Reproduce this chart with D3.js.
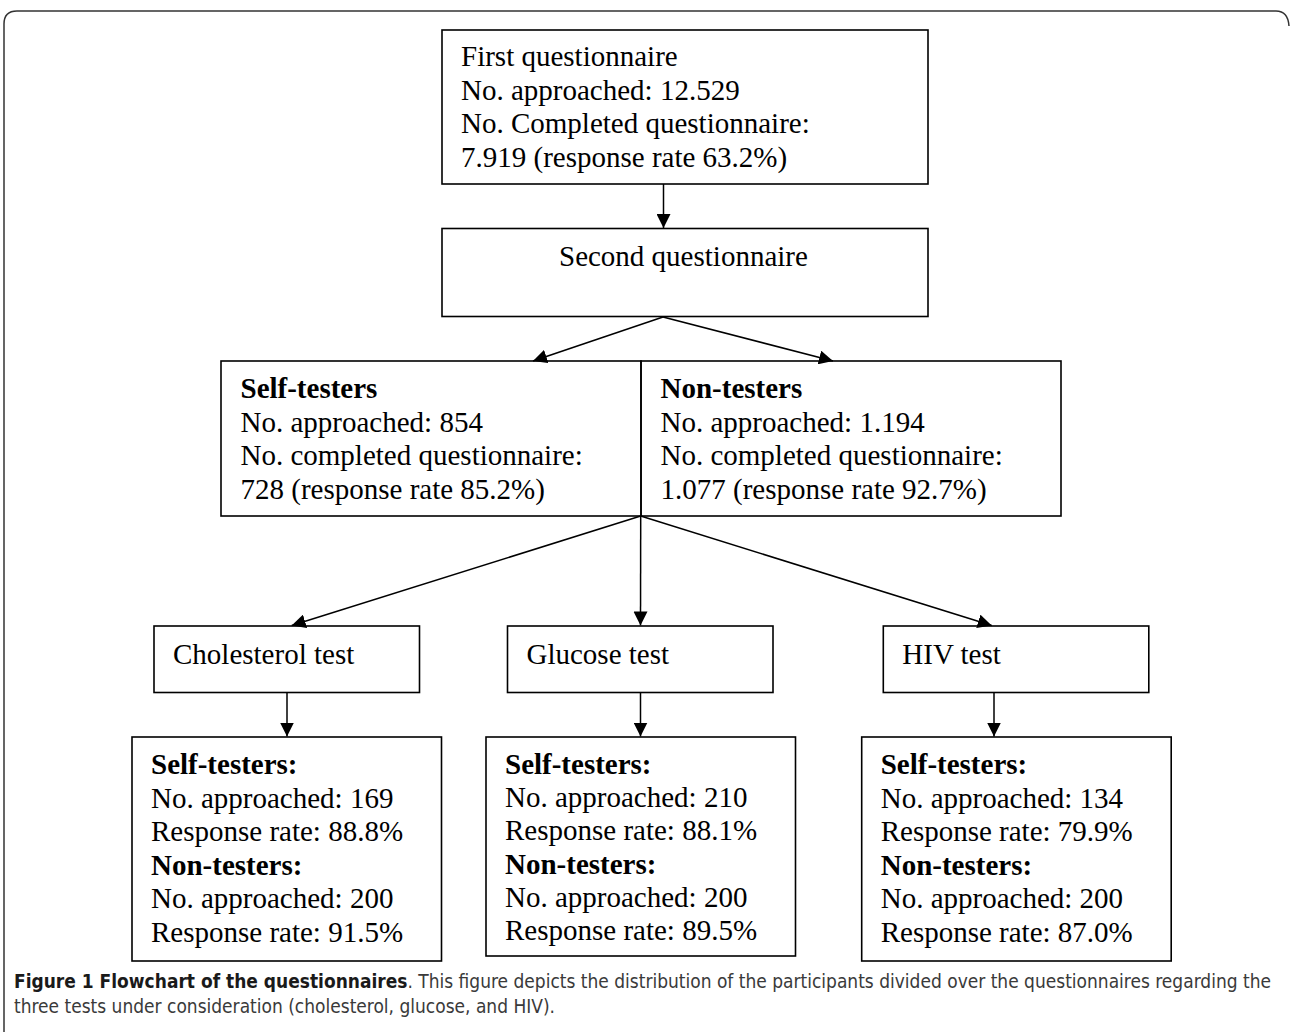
<!DOCTYPE html>
<html>
<head>
<meta charset="utf-8">
<script src="https://d3js.org/d3.v7.min.js"></script>
<style>
  body { margin: 0; background: #fff; }
  svg { display: block; }
  .box { fill: none; stroke: #000; stroke-width: 1.6; }
  .serif { font-family: "Liberation Serif", "Times New Roman", serif; font-size: 29px; fill: #000; }
  .cap { font-family: "Liberation Sans Narrow", "DejaVu Sans Condensed", "Open Sans", sans-serif; font-size: 20px; }
</style>
</head>
<body>
<svg id="chart" width="1292" height="1032"></svg>
<script>
// ---- data ----
var firstApproached = "12.529";
var firstCompleted = "7.919";
var firstRate = 63.2;

var groups = ["Self-testers", "Non-testers"];
var groupApproached = ["854", "1.194"];
var groupCompleted = ["728", "1.077"];
var groupRate = [85.2, 92.7];

var tests = ["Cholesterol test", "Glucose test", "HIV test"];
var selfApproached = [169, 210, 134];
var selfRate = [88.8, 88.1, 79.9];
var nonApproached = [200, 200, 200];
var nonRate = [91.5, 89.5, 87.0];

var captionBold = "Figure 1 Flowchart of the questionnaires";
var captionRest = ". This figure depicts the distribution of the participants divided over the questionnaires regarding the";
var captionLine2 = "three tests under consideration (cholesterol, glucose, and HIV).";

// ---- layout ----
var pct = function(v) { return d3.format(".1f")(v) + "%"; };
var lineH = 33.6;

var svg = d3.select("#chart");

// arrow head
svg.append("defs").append("marker")
  .attr("id", "head")
  .attr("markerUnits", "userSpaceOnUse")
  .attr("viewBox", "0 0 14 14")
  .attr("refX", 14).attr("refY", 7)
  .attr("markerWidth", 14).attr("markerHeight", 14)
  .attr("orient", "auto")
  .append("path").attr("d", "M0,0 L14,7 L0,14 z").attr("fill", "#000");

// outer figure frame (rounded top corners)
svg.append("path")
  .attr("d", "M4,1032 V24 Q4,11 17,11 H1276 Q1288,11 1289,26")
  .attr("fill", "none").attr("stroke", "#333").attr("stroke-width", 1.5);

function arrow(x1, y1, x2, y2) {
  svg.append("line")
    .attr("x1", x1).attr("y1", y1).attr("x2", x2).attr("y2", y2)
    .attr("stroke", "#000").attr("stroke-width", 1.5)
    .attr("marker-end", "url(#head)");
}

function textBlock(x, y0, lines) {
  var t = svg.append("text").attr("class", "serif");
  lines.forEach(function(l, i) {
    t.append("tspan")
      .attr("x", x).attr("y", y0 + i * lineH)
      .attr("font-weight", l.bold ? "bold" : null)
      .text(l.text);
  });
}

// first questionnaire
svg.append("rect").attr("class", "box").attr("x", 442).attr("y", 30).attr("width", 486).attr("height", 154);
textBlock(461, 66, [
  { text: "First questionnaire" },
  { text: "No. approached: " + firstApproached },
  { text: "No. Completed questionnaire:" },
  { text: firstCompleted + " (response rate " + pct(firstRate) + ")" }
]);
arrow(663.5, 184, 663.5, 228);

// second questionnaire
svg.append("rect").attr("class", "box").attr("x", 442).attr("y", 228.5).attr("width", 486).attr("height", 88);
svg.append("text").attr("class", "serif").attr("x", 559).attr("y", 266).text("Second questionnaire");

// groups
var gx = d3.scaleBand().domain(groups).range([221, 1061]);
var gTip = d3.scalePoint().domain(groups).range([533, 833]);
groups.forEach(function(g, i) {
  arrow(663, 317, gTip(g), 361);
  svg.append("rect").attr("class", "box")
    .attr("x", gx(g)).attr("y", 361).attr("width", gx.bandwidth()).attr("height", 155);
  textBlock(gx(g) + 19.5, 398, [
    { text: g, bold: true },
    { text: "No. approached: " + groupApproached[i] },
    { text: "No. completed questionnaire:" },
    { text: groupCompleted[i] + " (response rate " + pct(groupRate[i]) + ")" }
  ]);
});

// tests
var tx = d3.scalePoint().domain(tests).range([287, 994]);
var tipOff = [4.7, 0, -2.3];       // arrow tip offset from column axis
var testBoxOff = [-133, -133, -110.7];
var resBoxOff = [-155, -154.5, -132.3];
var resBoxBottom = [961, 956, 961];
var branchX = 640.7, branchY = 516;

tests.forEach(function(t, i) {
  var cx = tx(t);
  arrow(branchX, branchY, cx + tipOff[i], 625.5);
  svg.append("rect").attr("class", "box")
    .attr("x", cx + testBoxOff[i]).attr("y", 626).attr("width", 265.5).attr("height", 66.5);
  svg.append("text").attr("class", "serif")
    .attr("x", cx + testBoxOff[i] + 19).attr("y", 664).text(t);

  arrow(cx, 692.5, cx, 736.5);
  var bx = cx + resBoxOff[i];
  svg.append("rect").attr("class", "box")
    .attr("x", bx).attr("y", 737).attr("width", 309.5).attr("height", resBoxBottom[i] - 737);
  var sp = i === 1 ? 33.2 : lineH;
  var tb = svg.append("text").attr("class", "serif");
  [
    { text: "Self-testers:", bold: true },
    { text: "No. approached: " + selfApproached[i] },
    { text: "Response rate: " + pct(selfRate[i]) },
    { text: "Non-testers:", bold: true },
    { text: "No. approached: " + nonApproached[i] },
    { text: "Response rate: " + pct(nonRate[i]) }
  ].forEach(function(l, k) {
    tb.append("tspan").attr("x", bx + 19).attr("y", 774 + k * sp)
      .attr("font-weight", l.bold ? "bold" : null).text(l.text);
  });
});

// caption: shrink the font so the first line fits the frame width
var cap1 = svg.append("text").attr("class", "cap").attr("x", 14).attr("y", 988);
cap1.append("tspan").attr("font-weight", "bold").attr("fill", "#1a1a1a").text(captionBold);
cap1.append("tspan").attr("fill", "#3a3a3a").text(captionRest);
var cap2 = svg.append("text").attr("class", "cap").attr("x", 14).attr("y", 1013)
  .attr("fill", "#3a3a3a").text(captionLine2);

var w1 = cap1.node().getComputedTextLength();
var fs = Math.min(20, 20 * 1258 / w1);
cap1.style("font-size", fs + "px");
cap2.style("font-size", fs + "px");
</script>
</body>
</html>
